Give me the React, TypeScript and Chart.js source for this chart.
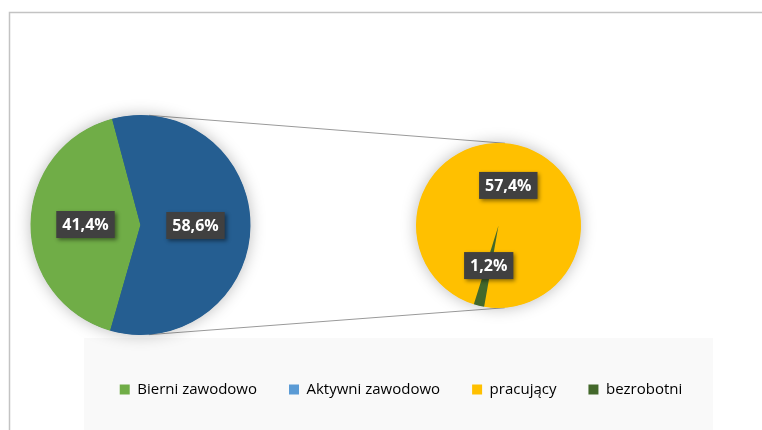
import React, { useEffect, useRef } from 'react';
import { Chart, registerables } from 'chart.js';

Chart.register(...registerables);

// ---- data ----
const mainCategories = ['Bierni zawodowo', 'Aktywni zawodowo'];
const mainValues = [41.4, 58.6];
const subCategories = ['pracujący', 'bezrobotni'];
const subValues = [57.4, 1.2];

// ---- styles ----
const mainColors = ['#70AD47', '#255E91'];
const subColors = ['#FFC000', '#43682B'];
const legendColors = ['#70AD47', '#5B9BD5', '#FFC000', '#43682B'];
const legendLabels = [...mainCategories, ...subCategories];

// pie geometry (canvas px)
const PIE_LAYOUT = [
  { cx: 140.5, cy: 225, r: 110 },
  { cx: 498.5, cy: 225.5, r: 82.5 },
];

const fmt = (v: number) => v.toFixed(1).replace('.', ',') + '%';

const pieOfPiePlugin = {
  id: 'pieOfPie',
  afterDatasetsUpdate(chart: any) {
    chart.data.datasets.forEach((_: any, i: number) => {
      const L = PIE_LAYOUT[i];
      const meta = chart.getDatasetMeta(i);
      meta.data.forEach((arc: any) => {
        arc.x = L.cx;
        arc.y = L.cy;
        arc.innerRadius = 0;
        arc.outerRadius = L.r;
      });
    });
  },
  beforeDraw(chart: any) {
    const ctx = chart.ctx;
    ctx.save();
    // legend panel
    ctx.fillStyle = '#f9f9f9';
    ctx.fillRect(84, 338, 629, 120);
    // frame
    ctx.strokeStyle = '#c3c3c3';
    ctx.lineWidth = 1.5;
    ctx.beginPath();
    ctx.moveTo(9.5, chart.height + 5);
    ctx.lineTo(9.5, 12.5);
    ctx.lineTo(chart.width + 5, 12.5);
    ctx.stroke();
    ctx.restore();
  },
  beforeDatasetsDraw(chart: any) {
    const ctx = chart.ctx;
    const [a, b] = PIE_LAYOUT;
    // connector lines: external tangents between the two pies
    const dx = b.cx - a.cx;
    const dy = b.cy - a.cy;
    const d = Math.hypot(dx, dy);
    const ux = dx / d, uy = dy / d;
    const vx = uy, vy = -ux; // perpendicular (up)
    const s = (a.r - b.r) / d;
    const c = Math.sqrt(1 - s * s);
    ctx.save();
    ctx.strokeStyle = '#9a9a9a';
    ctx.lineWidth = 1;
    [1, -1].forEach((sg) => {
      const nx = ux * s + sg * vx * c;
      const ny = uy * s + sg * vy * c;
      ctx.beginPath();
      ctx.moveTo(a.cx + a.r * nx, a.cy + a.r * ny);
      ctx.lineTo(b.cx + b.r * nx, b.cy + b.r * ny);
      ctx.stroke();
    });
    // soft shadows
    PIE_LAYOUT.forEach((L, i) => {
      ctx.save();
      ctx.shadowColor = 'rgba(0,0,0,0.28)';
      ctx.shadowBlur = 16;
      ctx.fillStyle = i === 0 ? mainColors[1] : subColors[0];
      ctx.beginPath();
      ctx.arc(L.cx, L.cy, L.r - 0.5, 0, Math.PI * 2);
      ctx.fill();
      ctx.restore();
    });
    ctx.restore();
  },
  afterDatasetsDraw(chart: any) {
    const ctx = chart.ctx;
    ctx.save();
    ctx.font = 'bold 16px "Open Sans", sans-serif';
    ctx.textAlign = 'center';
    ctx.textBaseline = 'middle';
    chart.data.datasets.forEach((ds: any, i: number) => {
      const meta = chart.getDatasetMeta(i);
      meta.data.forEach((arc: any, j: number) => {
        const p = arc.tooltipPosition(false);
        const text = fmt(ds.data[j]);
        const w = ctx.measureText(text).width + 12;
        const h = 27;
        ctx.save();
        ctx.shadowColor = 'rgba(0,0,0,0.45)';
        ctx.shadowBlur = 4;
        ctx.shadowOffsetX = 2;
        ctx.shadowOffsetY = 2;
        ctx.fillStyle = '#404040';
        ctx.fillRect(p.x - w / 2, p.y - h / 2, w, h);
        ctx.restore();
        ctx.fillStyle = '#ffffff';
        ctx.fillText(text, p.x, p.y + 1);
      });
    });
    ctx.restore();
  },
};

export default function App() {
  const ref = useRef<HTMLCanvasElement | null>(null);

  useEffect(() => {
    document.body.style.margin = '0';
    let chart: Chart | null = null;
    let cancelled = false;
    const make = () => {
      if (cancelled || !ref.current) return;
      chart = new Chart(ref.current, {
        type: 'pie',
        data: {
          labels: legendLabels,
          datasets: [
            {
              data: mainValues,
              backgroundColor: mainColors,
              borderWidth: 0,
              rotation: 196,
            } as any,
            {
              data: subValues,
              backgroundColor: subColors,
              borderWidth: 0,
              rotation: 197.4,
            } as any,
          ],
        },
        options: {
          animation: false,
          responsive: true,
          maintainAspectRatio: false,
          events: [],
          layout: { padding: { left: 70, right: 30, bottom: 23, top: 0 } },
          plugins: {
            tooltip: { enabled: false },
            legend: {
              position: 'bottom',
              onClick: () => {},
              labels: {
                boxWidth: 10,
                boxHeight: 10,
                padding: 32,
                color: '#595959',
                font: { family: '"Open Sans", sans-serif', size: 15 },
                generateLabels: () =>
                  legendLabels.map((t, i) => ({
                    text: t,
                    fillStyle: legendColors[i],
                    strokeStyle: legendColors[i],
                    lineWidth: 0,
                    hidden: false,
                    index: i,
                  })),
              },
            },
          },
        },
        plugins: [pieOfPiePlugin],
      });
    };
    const fontsReady = (document as any).fonts
      ? Promise.all([
          (document as any).fonts.load('15px "Open Sans"'),
          (document as any).fonts.load('bold 16px "Open Sans"'),
        ]).catch(() => null)
      : Promise.resolve();
    fontsReady.then(make);
    return () => {
      cancelled = true;
      if (chart) chart.destroy();
    };
  }, []);

  return (
    <div style={{ position: 'relative', width: 762, height: 430, background: '#ffffff' }}>
      <canvas ref={ref} />
    </div>
  );
}
